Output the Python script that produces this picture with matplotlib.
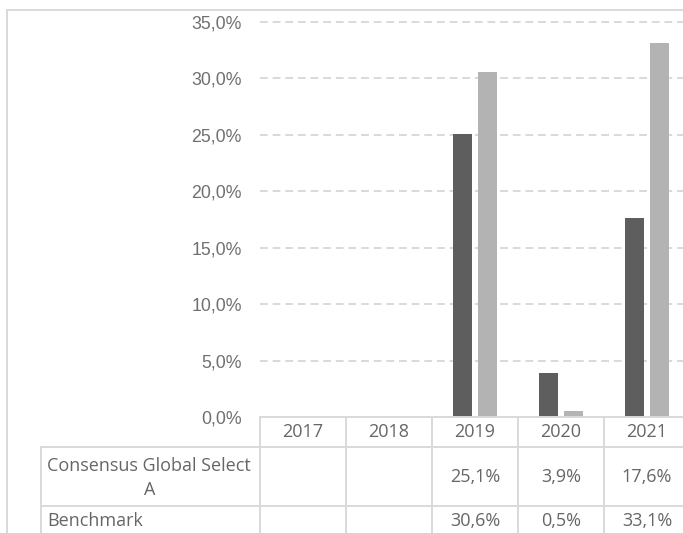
import matplotlib
matplotlib.use("Agg")
import matplotlib.pyplot as plt
from matplotlib.lines import Line2D
import numpy as np

years = ["2017", "2018", "2019", "2020", "2021"]
fund_name = "Consensus Global Select A"
bench_name = "Benchmark"
fund = [np.nan, np.nan, 25.1, 3.9, 17.6]
bench = [np.nan, np.nan, 30.6, 0.5, 33.1]
yticks = [0, 5, 10, 15, 20, 25, 30, 35]

W, H = 683, 533
DARK = "#5e5e5e"
LIGHT = "#b3b3b3"
GRID = "#d9d9d9"
TXT = "#595959"
TFONT = "Open Sans"

fig = plt.figure(figsize=(W / 100, H / 100), dpi=100)

def fx(px):
    return px / W

def fy(py):
    return 1 - py / H

ax_left, ax_right, ax_top, ax_bot = 260, 690, 22, 417
ax = fig.add_axes([fx(ax_left), fy(ax_bot), fx(ax_right - ax_left), (ax_bot - ax_top) / H])
x = np.arange(len(years))
bw = 0.221
off = 0.142
ax.bar(x - off, fund, bw, color=DARK, zorder=3)
ax.bar(x + off, bench, bw, color=LIGHT, zorder=3)
ax.set_xlim(-0.5, len(years) - 0.5)
ax.set_ylim(0, 35)
ax.set_yticks(yticks)
ax.set_yticklabels([f"{v:.1f}".replace(".", ",") + "%" for v in yticks],
                   fontsize=12.8, color="#707070", family="Liberation Sans")
ax.tick_params(axis="y", length=0, pad=13)
ax.set_xticks([])
for v in yticks[1:]:
    ax.axhline(v, color=GRID, lw=1.4, ls=(0, (4, 2.5)), zorder=1, clip_on=False)
for s in ax.spines.values():
    s.set_visible(False)
ax.patch.set_alpha(0)

def hline(y, x0, x1):
    fig.add_artist(Line2D([fx(x0), fx(x1)], [fy(y), fy(y)], color=GRID, lw=1.4))

def vline(xp, y0, y1):
    fig.add_artist(Line2D([fx(xp), fx(xp)], [fy(y0), fy(y1)], color=GRID, lw=1.4))

# outer border
hline(10, 7, W + 5)
vline(7, 10, H + 5)

# table grid
hline(417, 260, W + 5)
hline(447, 41, W + 5)
hline(506, 41, W + 5)
vline(41, 447, H + 5)
col_edges = []
for i in range(len(years) + 1):
    xd = i - 0.5
    px = ax.transData.transform((xd, 0))[0]
    col_edges.append(px)
    vline(px, 417, H + 5)

def cell_text(xpx, ypx, s, ha="center"):
    fig.text(fx(xpx), fy(ypx), s, ha=ha, va="center", fontsize=13.0,
             color="#666666", family=TFONT)

for i, yr in enumerate(years):
    cx = (col_edges[i] + col_edges[i + 1]) / 2
    cell_text(cx, 432, yr)
    if not np.isnan(fund[i]):
        cell_text(cx, 477, f"{fund[i]:.1f}".replace(".", ",") + "%")
    if not np.isnan(bench[i]):
        cell_text(cx, 521, f"{bench[i]:.1f}".replace(".", ",") + "%")

words = fund_name.rsplit(" ", 1)
cell_text(47, 466, words[0], ha="left")
cell_text(150, 490, words[1])
cell_text(47, 521, bench_name, ha="left")

fig.savefig("out.png", dpi=100)
